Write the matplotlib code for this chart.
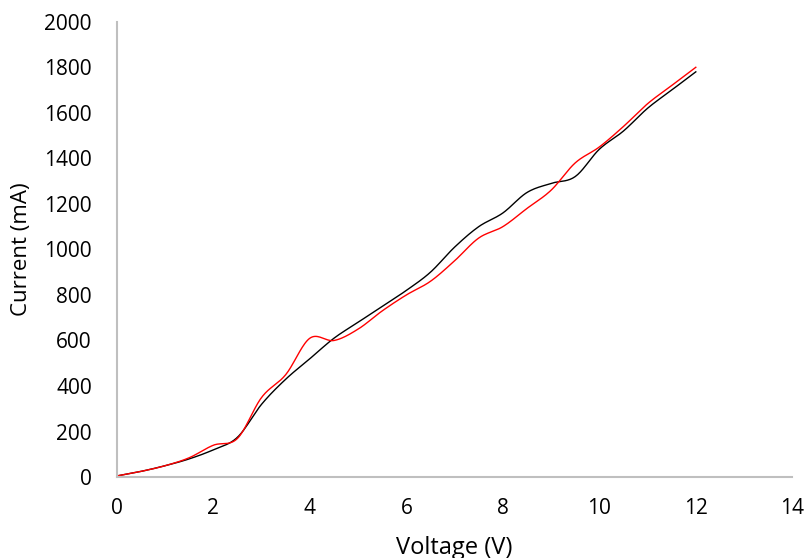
import numpy as np
import matplotlib
matplotlib.use('Agg')
import matplotlib.pyplot as plt

plt.rcParams['font.family'] = ['Open Sans', 'DejaVu Sans']

voltage = [0, 0.5, 1, 1.5, 2, 2.5, 3, 3.5, 4, 4.5, 5, 5.5, 6, 6.5, 7, 7.5, 8,
           8.5, 9, 9.5, 10, 10.5, 11, 11.5, 12]
current_black = [5, 25, 50, 80, 120, 175, 320, 430, 520, 610, 680, 750, 820,
                 900, 1010, 1100, 1160, 1250, 1290, 1320, 1440, 1520, 1620,
                 1700, 1780]
current_red = [5, 25, 50, 85, 140, 170, 350, 450, 610, 600, 650, 730, 800,
               860, 950, 1050, 1100, 1180, 1260, 1380, 1450, 1540, 1640,
               1720, 1800]


def smooth(xs, ys, n=20):
    # excel-style smoothed line: bezier segments, control pts from neighbours
    p = np.column_stack([xs, ys]).astype(float)
    p = np.vstack([p[0], p, p[-1]])
    out = []
    t = np.linspace(0, 1, n)[:, None]
    for i in range(1, len(p) - 2):
        p0, p1, p2, p3 = p[i - 1], p[i], p[i + 1], p[i + 2]
        c1 = p1 + (p2 - p0) / 6
        c2 = p2 - (p3 - p1) / 6
        seg = ((1 - t) ** 3) * p1 + 3 * ((1 - t) ** 2) * t * c1 \
            + 3 * (1 - t) * t ** 2 * c2 + t ** 3 * p2
        out.append(seg if i == 1 else seg[1:])
    out = np.vstack(out)
    return out[:, 0], out[:, 1]


fig = plt.figure(figsize=(8.06, 5.58), dpi=100)
ax = fig.add_axes([0.145, 0.145, 0.838, 0.816])

sx, sy = smooth(voltage, current_black)
ax.plot(sx, sy, color='black', lw=1.0)
sx, sy = smooth(voltage, current_red)
ax.plot(sx, sy, color='#ff0000', lw=1.0)

ax.set_xlim(0, 14)
ax.set_ylim(0, 2000)
ax.set_xticks(range(0, 15, 2))
ax.set_yticks(range(0, 2001, 200))

for s in ['top', 'right']:
    ax.spines[s].set_visible(False)
for s in ['left', 'bottom']:
    ax.spines[s].set_color('#bfbfbf')
    ax.spines[s].set_linewidth(1.5)

ax.tick_params(axis='both', length=0, labelsize=15, colors='black')
ax.tick_params(axis='x', pad=15)
ax.tick_params(axis='y', pad=18)

ax.set_xlabel('Voltage (V)', fontsize=17)
ax.set_ylabel('Current (mA)', fontsize=16)
ax.xaxis.set_label_coords(0.5, -0.13)
ax.yaxis.set_label_coords(-0.125, 0.5)

fig.savefig('out.png', dpi=100)
